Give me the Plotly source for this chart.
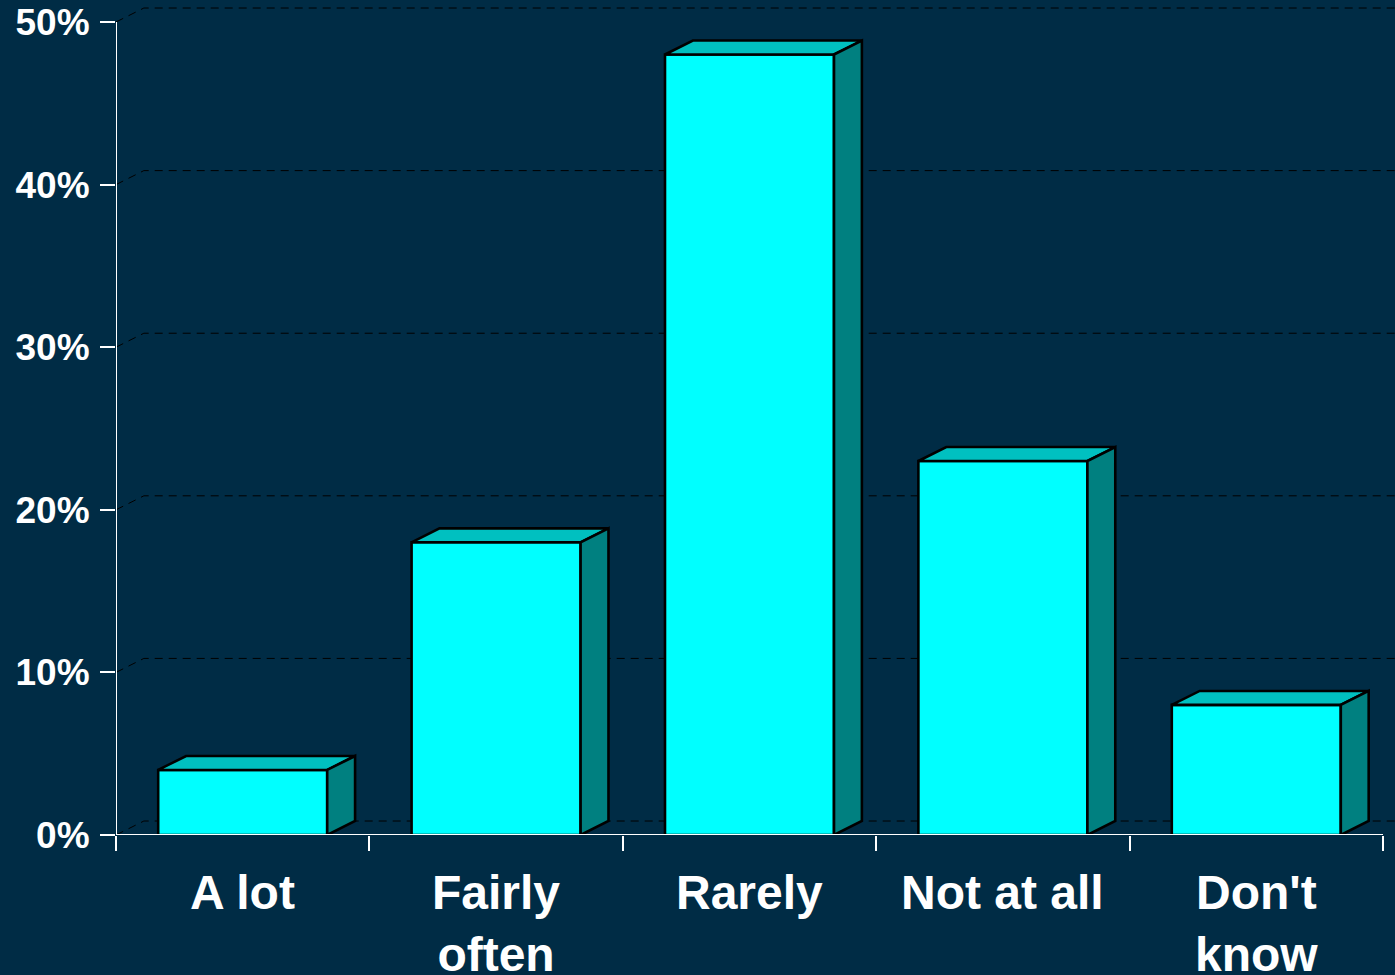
import plotly.graph_objects as go

# ---- data ----
categories = ["A lot", "Fairly<br>often", "Rarely", "Not at all", "Don't<br>know"]
values = [4, 18, 48, 23, 8]
y_tickvals = [0, 10, 20, 30, 40, 50]
y_ticktext = ["0%", "10%", "20%", "30%", "40%", "50%"]

# ---- style ----
BG = "#002C45"
FRONT = "#00FFFF"
TOP = "#00C0C0"
SIDE = "#008080"
FONT = "Liberation Sans, Arial, sans-serif"
DX, DY = 0.11, 0.86   # 3D depth in axis units
BW = 0.667
EDGE = 2.6

xs = list(range(len(values)))
n = len(values)

fig = go.Figure()

# front faces
fig.add_trace(go.Bar(x=xs, y=values, width=BW,
                     marker=dict(color=FRONT, line=dict(color="black", width=EDGE)),
                     hoverinfo="skip", showlegend=False))

# top and side faces
for x, v in zip(xs, values):
    x0, x1 = x - BW / 2, x + BW / 2
    fig.add_trace(go.Scatter(x=[x0, x0 + DX, x1 + DX, x1, x0],
                             y=[v, v + DY, v + DY, v, v],
                             mode="lines", fill="toself", fillcolor=TOP,
                             line=dict(color="black", width=EDGE),
                             hoverinfo="skip", showlegend=False))
    fig.add_trace(go.Scatter(x=[x1, x1 + DX, x1 + DX, x1, x1],
                             y=[0, DY, v + DY, v, 0],
                             mode="lines", fill="toself", fillcolor=SIDE,
                             line=dict(color="black", width=EDGE),
                             hoverinfo="skip", showlegend=False))

shapes = []
# dashed gridlines on back plane
for t in y_tickvals:
    shapes.append(dict(type="path", xref="x", yref="y", layer="below",
                       path=f"M {-0.5} {t} L {-0.5 + DX} {t + DY} L {n - 0.5 + DX} {t + DY}",
                       line=dict(color="black", width=1, dash="8px,6px")))
# axis lines
shapes.append(dict(type="line", xref="x", yref="y", x0=-0.5, x1=-0.5, y0=0, y1=max(y_tickvals),
                   line=dict(color="white", width=2), layer="above"))
shapes.append(dict(type="line", xref="x", yref="y", x0=-0.5, x1=n - 0.5, y0=0, y1=0,
                   line=dict(color="white", width=2), layer="above"))

annotations = []
for x, c in zip(xs, categories):
    annotations.append(dict(x=x, xref="x", y=0, yref="paper", yanchor="top", xanchor="center",
                            yshift=-29, text=c, showarrow=False, align="center",
                            font=dict(family=FONT, size=48, color="white", weight="bold")))

fig.update_layout(
    width=1395, height=975,
    margin=dict(l=116, r=0, t=0, b=140),
    paper_bgcolor=BG, plot_bgcolor=BG,
    shapes=shapes, annotations=annotations,
    showlegend=False, barmode="overlay",
    xaxis=dict(range=[-0.5, -0.5 + 1279 / 253.4], showgrid=False, zeroline=False, showline=False,
               tickmode="array", tickvals=[i - 0.5 for i in range(n + 1)], ticktext=[""] * (n + 1),
               ticks="outside", ticklen=15, tickwidth=2, tickcolor="white", showticklabels=False,
               fixedrange=True),
    yaxis=dict(range=[0, 50 * 835 / 813], showgrid=False, zeroline=False, showline=False,
               tickmode="array", tickvals=y_tickvals, ticktext=y_ticktext,
               ticks="outside", ticklen=15, tickwidth=2, tickcolor="white",
               ticklabelstandoff=3,
               tickfont=dict(family=FONT, size=37, color="white", weight="bold"),
               fixedrange=True),
)

fig.write_html("out.html", config={"displayModeBar": False},
               post_script=f"document.body.style.margin='0';document.body.style.background='{BG}';")
